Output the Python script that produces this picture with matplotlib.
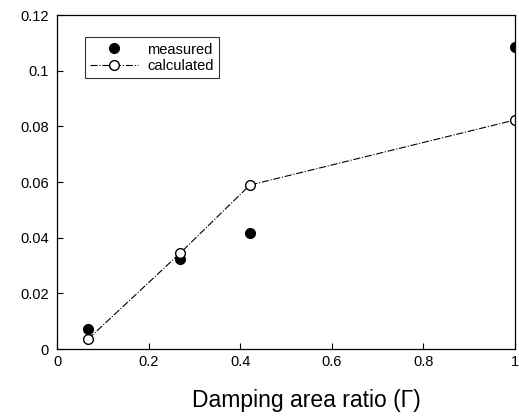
import matplotlib.pyplot as plt

plt.rcParams['font.family'] = ['Liberation Sans', 'DejaVu Sans']

# Data
ratio = [0.068, 0.269, 0.421, 1.0]
measured = [0.0072, 0.0323, 0.0417, 0.1085]
calculated = [0.0036, 0.0345, 0.0589, 0.0823]

x_ticks = [0, 0.2, 0.4, 0.6, 0.8, 1]
x_labels = ['0', '0.2', '0.4', '0.6', '0.8', '1']
y_ticks = [0, 0.02, 0.04, 0.06, 0.08, 0.1, 0.12]
y_labels = ['0', '0.02', '0.04', '0.06', '0.08', '0.1', '0.12']

fig = plt.figure(figsize=(5.19, 4.19), dpi=100)
ax = fig.add_axes([0.110, 0.167, 0.882, 0.797])

ax.plot(ratio, measured, 'o', color='black', markersize=7, label='measured')
ax.plot(ratio, calculated, linestyle='-.', color='black', linewidth=0.8,
        marker='o', markerfacecolor='white', markeredgecolor='black',
        markersize=7, label='calculated')

ax.set_xlim(0, 1)
ax.set_ylim(0, 0.12)
ax.set_xticks(x_ticks)
ax.set_xticklabels(x_labels)
ax.set_yticks(y_ticks)
ax.set_yticklabels(y_labels)
ax.tick_params(direction='in', length=4, labelsize=10.5)
ax.tick_params(axis='y', pad=6)
ax.tick_params(axis='x', pad=4)
for s in ax.spines.values():
    s.set_linewidth(0.9)

ax.set_xlabel('Damping area ratio (\u0393)', fontsize=16.5, labelpad=18)
ax.xaxis.set_label_coords(0.545, -0.12)

leg = ax.legend(loc='upper left', bbox_to_anchor=(0.045, 0.955), fontsize=10.5,
                frameon=True, fancybox=False, edgecolor='black',
                handlelength=3.3, borderpad=0.35, labelspacing=0.15,
                handletextpad=0.6)
leg.get_frame().set_linewidth(0.8)

fig.savefig('out.png', dpi=100)
